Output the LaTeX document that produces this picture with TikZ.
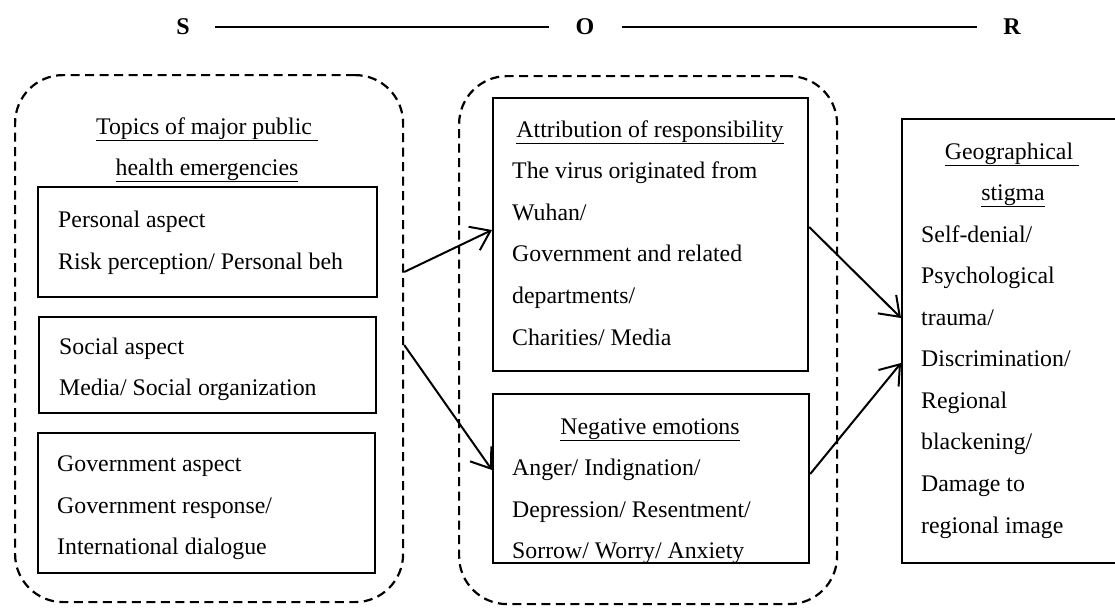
\documentclass[tikz,border=0pt]{standalone}
\usepackage{fontspec}
\setmainfont{Liberation Serif}
\usetikzlibrary{arrows.meta}
\begin{document}
\begin{tikzpicture}[x=1pt,y=-1pt,
 every node/.style={font=\fontsize{23.8}{28}\selectfont},
 box/.style={draw, line width=2.2pt, anchor=north west, inner sep=0pt},
 grp/.style={draw, dash pattern=on 9pt off 5.5pt, line width=2.2pt, rounded corners=48pt, anchor=north west, inner sep=0pt},
 txt/.style={anchor=base west, inner sep=0pt},
 ttl/.style={anchor=base, inner sep=0pt},
 arr/.style={line width=2pt, -{Straight Barb[length=18pt,width=26pt,line width=2pt]}},
 sor/.style={font=\fontsize{24}{28}\selectfont\bfseries, inner sep=0pt},
 sorline/.style={line width=1.2pt}]
\useasboundingbox (0,0) rectangle (1115,608);
% S-O-R header
\node[sor] (S) at (183,27) {S};
\node[sor] (O) at (585,27) {O};
\node[sor] (R) at (1012,27) {R};
\draw[sorline] ([xshift=25pt]S.east) -- ([xshift=-26pt]O.west);
\draw[sorline] ([xshift=27pt]O.east) -- ([xshift=-26pt]R.west);
% groups
\node[grp, minimum width=388pt, minimum height=527pt] (grpL) at (14,74) {};
\node[grp, minimum width=378pt, minimum height=528pt] (grpM) at (458,75) {};
% left boxes
\node[box, minimum width=339pt, minimum height=110pt] (bP) at (37,186) {};
\node[box, minimum width=337pt, minimum height=96pt] (bS) at (38,316) {};
\node[box, minimum width=337pt, minimum height=140pt] (bG) at (37,432) {};
% middle boxes
\node[box, minimum width=315pt, minimum height=273pt] (bA) at (492,97) {};
\node[box, minimum width=316pt, minimum height=169pt] (bN) at (492,393) {};
% right box
\node[box, minimum width=240pt, minimum height=444pt] (bR) at (901,118) {};
% left texts
\node[ttl] (t1) at (207,134) {\underline{Topics of major public\ }};
\node[ttl] (t2) at (207,175) {\underline{health emergencies}};
\node[txt] (p1) at (58,227) {Personal aspect};
\node[txt] (p2) at (58,269) {Risk perception/ Personal beh};
\node[txt] (s1) at (59,354) {Social aspect};
\node[txt] (s2) at (59,395) {Media/ Social organization};
\node[txt] (g1) at (57,471) {Government aspect};
\node[txt] (g2) at (57,513) {Government response/};
\node[txt] (g3) at (57,554) {International dialogue};
% middle texts
\node[ttl] (at) at (650,137) {\underline{Attribution of responsibility}};
\node[txt] (a1) at (512,178) {The virus originated from};
\node[txt] (a2) at (512,220) {Wuhan/};
\node[txt] (a3) at (512,261) {Government and related};
\node[txt] (a4) at (512,303) {departments/};
\node[txt] (a5) at (512,345) {Charities/ Media};
\node[ttl] (nt) at (650,434) {\underline{Negative emotions}};
\node[txt] (n1) at (512,475) {Anger/ Indignation/};
\node[txt] (n2) at (512,517) {Depression/ Resentment/};
\node[txt] (n3) at (512,558) {Sorrow/ Worry/ Anxiety};
% right texts
\node[ttl] (rt1) at (1012,159) {\underline{Geographical\ }};
\node[ttl] (rt2) at (1013,200) {\underline{stigma}};
\node[txt] (r1) at (921,242) {Self-denial/};
\node[txt] (r2) at (921,283) {Psychological};
\node[txt] (r3) at (921,325) {trauma/};
\node[txt] (r4) at (921,366) {Discrimination/};
\node[txt] (r5) at (921,408) {Regional};
\node[txt] (r6) at (921,449) {blackening/};
\node[txt] (r7) at (921,491) {Damage to};
\node[txt] (r8) at (921,533) {regional image};
% arrows
\draw[arr] (grpL.east |- 0,272) -- (bA.west |- 0,230);
\draw[arr] (grpL.east |- 0,345) -- (bN.west |- 0,470);
\draw[arr] (bA.east |- 0,227) -- (bR.west |- 0,318);
\draw[arr] (bN.east |- 0,474) -- (bR.west |- 0,363);
\end{tikzpicture}
\end{document}
